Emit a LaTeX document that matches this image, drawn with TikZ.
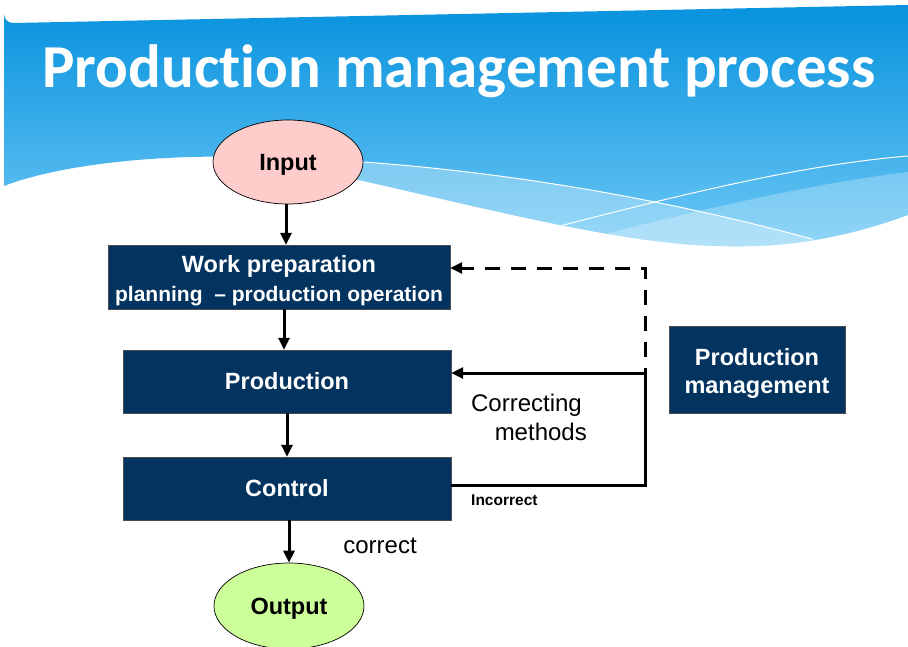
\documentclass[tikz,border=0pt]{standalone}
\usepackage{fontspec}
\setmainfont{Liberation Sans}
\newfontfamily\titlefont[Ligatures={NoCommon}]{Carlito}
\usetikzlibrary{arrows.meta,shapes.geometric}
\definecolor{navybox}{HTML}{03335F}
\definecolor{inputpink}{HTML}{FFCCCC}
\definecolor{outputgreen}{HTML}{CCFF99}
\definecolor{skytop}{HTML}{0892DE}
\definecolor{skybot}{HTML}{6CC8F5}
\def\boxfont{\bfseries\fontsize{23.5}{28}\selectfont}
\tikzset{
	stagebox/.style={draw=black!70, fill=navybox, text=white, font=\boxfont, inner sep=0pt, align=center},
	onelabel/.style={text height=16.8pt, text depth=0pt},
	endpoint/.style={ellipse, draw=black, line width=0.7pt, minimum width=150, minimum height=84, inner sep=0pt, font=\boxfont, onelabel},
	flow/.style={line width=3pt, -{Triangle[length=12pt,width=11pt]}},
	backline/.style={line width=3pt},
}

\begin{document}
\begin{tikzpicture}[x=1pt,y=-1pt]
			%%%%% START %%%%%
			\useasboundingbox[fill=white] (0,0) rectangle (908,646);
			
			% banner
			\def\bannerpath{(4,186) -- (4,14) arc (180:90:9) -- (908,5) -- (908,215)
				.. controls (840,240) and (780,248) .. (720,246)
				.. controls (600,244) and (430,192) .. (250,157)
				.. controls (140,154) and (50,168) .. (4,186) -- cycle}
			\shade[top color=skytop, bottom color=skybot] \bannerpath;
			\begin{scope}
				\clip \bannerpath;
				\fill[white, opacity=0.3] (250,157) .. controls (450,160) and (650,195) .. (812,239) -- (908,262) -- (908,320) -- (250,320) -- cycle;
				\fill[white, opacity=0.25] (560,245) .. controls (680,215) and (800,185) .. (908,172) -- (908,320) -- (560,320) -- cycle;
				\draw[white, line width=1pt] (250,157) .. controls (450,160) and (650,195) .. (812,239);
				\draw[white, line width=1pt] (556,227) .. controls (680,195) and (800,165) .. (908,156);
			\end{scope}
			
			\node[anchor=base, text=white, font=\titlefont\bfseries\fontsize{61}{66}\selectfont] (title) at (459,87) {Production management process};
			
			% flow
			\node[endpoint, fill=inputpink] (input) at (288,162) {Input};
			\node[stagebox, minimum width=342, minimum height=64] (workprep) at (279,277) {};
			\node[text=white, font=\boxfont, align=center, inner sep=0pt] (workpreptext) at ([yshift=-4]workprep.center) {Work preparation\\[1pt]{\fontsize{21}{24}\selectfont planning~ -- production operation}};
			\node[stagebox, onelabel, minimum width=328, minimum height=63] (prod) at (287,381.5) {Production};
			\node[stagebox, onelabel, minimum width=328, minimum height=63] (ctrl) at (287,488.5) {Control};
			\node[endpoint, fill=outputgreen, minimum height=86] (output) at (289,606) {Output};
			\node[stagebox, minimum width=176, minimum height=87] (prodmgmt) at (757,369.5) {};
			\node[text=white, font=\boxfont, align=center, inner sep=0pt] (prodmgmttext) at ([yshift=-4]prodmgmt.center) {Production\\management};
			
			\draw[flow] (input.south -| 286,0) -- (286,0 |- workprep.north);
			\draw[flow] (284,0 |- workprep.south) -- (284,0 |- prod.north);
			\draw[flow] (prod.south) -- (ctrl.north);
			\draw[flow] (289,0 |- ctrl.south) -- (289,0 |- output.north);
			
			% feedback
			\coordinate (fbbottom) at (645,485);
			\coordinate (fbmid) at (645,373);
			\coordinate (fbtop) at (645,268);
			\draw[backline] (ctrl.east |- fbbottom) -- (fbbottom) -- ([yshift=-1.5]fbmid);
			\draw[flow] (fbmid) -- (prod.east |- fbmid);
			\draw[flow, dash pattern=on 15pt off 11pt] ([yshift=-10]fbmid) -- (fbtop) -- (workprep.east |- fbtop);
			
			% labels
			\node[anchor=east, align=right, inner sep=0pt, font=\fontsize{24}{29}\selectfont] (corrlabel) at (587,417) {Correcting\hspace*{5pt}\\methods};
			\node[anchor=base west, inner sep=0pt, font=\bfseries\fontsize{15.5}{18}\selectfont] (incorrlabel) at (471,505) {Incorrect};
			\node[anchor=base, inner sep=0pt, font=\fontsize{24}{29}\selectfont] (corrlabel2) at (380,553) {correct};
			%%%%% END %%%%%
\end{tikzpicture}
\end{document}
